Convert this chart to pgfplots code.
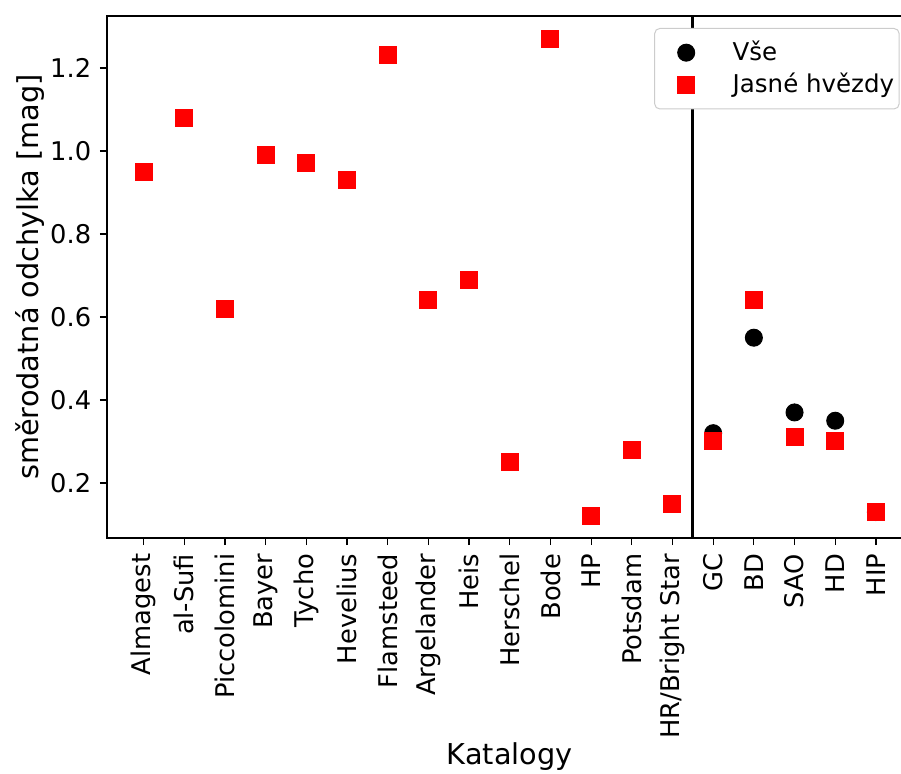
\documentclass[border=0pt]{standalone}
\usepackage{pgfplots}
\pgfplotsset{compat=1.18}
\usepackage{fontspec}
\setmainfont{DejaVu Sans}
\begin{document}
\begin{tikzpicture}
\begin{axis}[
  scale only axis,
  width=322.2pt, height=208.8pt,
  xmin=-0.9, xmax=18.9, ymin=0.0675, ymax=1.325,
  xtick={0,...,18},
  xticklabels={Almagest,al-Sufi,Piccolomini,Bayer,Tycho,Hevelius,Flamsteed,Argelander,Heis,Herschel,Bode,HP,Potsdam,HR/Bright Star,GC,BD,SAO,HD,HIP},
  xticklabel style={rotate=90, anchor=east, font=\fontsize{10.3}{12}\selectfont},
  yticklabel style={font=\fontsize{10.3}{12}\selectfont},
  ytick={0.2,0.4,0.6,0.8,1.0,1.2},
  yticklabel={\pgfmathprintnumber[fixed,fixed zerofill,precision=1]{\tick}},
  /pgf/number format/assume math mode=true,
  tick align=outside, xtick pos=bottom, ytick pos=left,
  major tick length=2.8pt,
  every tick/.style={black, line width=0.5pt},
  axis line style={line width=0.75pt},
  xlabel={Katalogy}, ylabel={směrodatná odchylka [mag]},
  xlabel style={at={(axis description cs:0.5,-0.4195)}, anchor=center, font=\fontsize{11.5}{13}\selectfont},
  ylabel style={at={(axis description cs:-0.0956,0.5)}, anchor=center, font=\fontsize{11.5}{13}\selectfont},
  legend style={at={(rel axis cs:0.984,0.977)}, anchor=north east, draw=black!20, rounded corners=2pt, fill=white, font=\fontsize{9.8}{11.5}\selectfont, row sep=-0.5pt, inner xsep=0pt, inner ysep=3pt,
    /tikz/every odd column/.append style={column sep=7pt}},
  legend image code/.code={\path (0pt,0pt) (21.8pt,0pt); \draw[#1] plot coordinates {(12.4pt,0pt)};},
  legend cell align=left,
  clip=false,
]
\addplot[black, line width=1.2pt, forget plot] coordinates {(13.5,0.0675) (13.5,1.325)};
\addplot[only marks, mark=*, mark size=3.4pt, black] coordinates {
(14,0.32) (15,0.55) (16,0.37) (17,0.35) (18,0.13)};
\addlegendentry{Vše}
\addplot[only marks, mark=square*, mark size=3.4pt, red, mark options={fill=red, draw=red}] coordinates {
(0,0.95) (1,1.08) (2,0.62) (3,0.99) (4,0.97) (5,0.93) (6,1.23) (7,0.64) (8,0.69) (9,0.25) (10,1.27) (11,0.12) (12,0.28) (13,0.15)
(14,0.30) (15,0.64) (16,0.31) (17,0.30) (18,0.13)};
\addlegendentry{Jasné hvězdy}
\end{axis}
\pgfresetboundingbox
\useasboundingbox (-42.8pt,-94.4pt) rectangle (317.6pt,215.2pt);
\end{tikzpicture}
\end{document}
